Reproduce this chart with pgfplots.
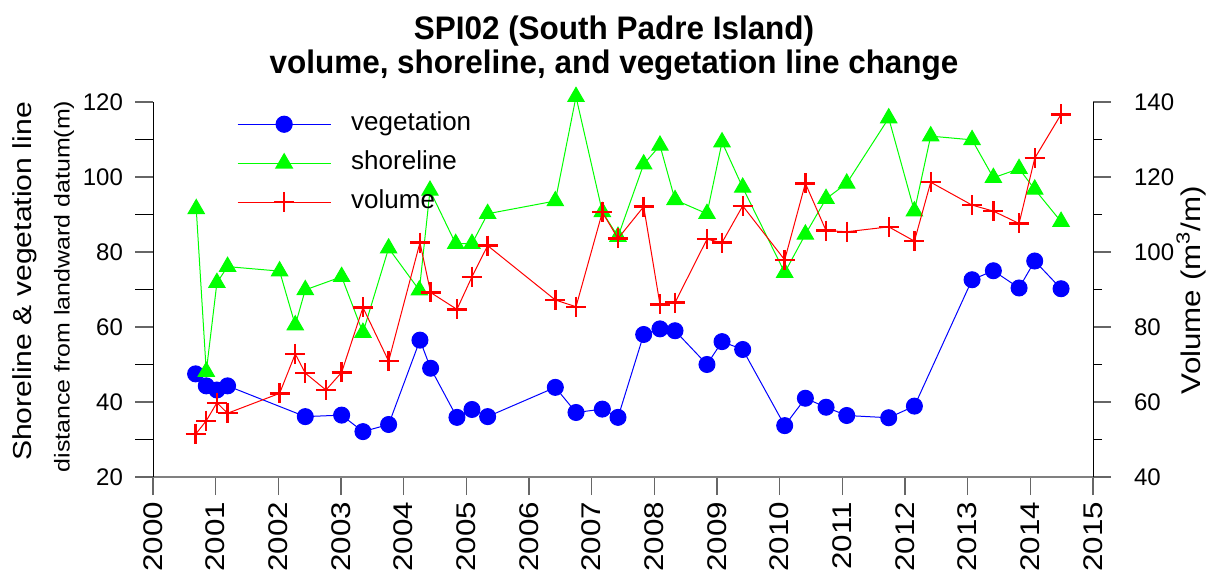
\documentclass[border=0pt]{standalone}
\usepackage{fontspec}
\setmainfont{Liberation Sans}
\newfontfamily\titlefont[FakeStretch=0.965]{Liberation Sans}
\newfontfamily\vfont[FakeStretch=1.16]{Liberation Sans}
\usepackage{pgfplots}
\pgfplotsset{compat=1.18}
\begin{document}
\begin{tikzpicture}
\useasboundingbox (-76.5pt,-49.5pt) rectangle (530pt,238.5pt);
\begin{axis}[
  at={(0pt,0pt)}, anchor=south west,
  scale only axis, width=470pt, height=187.5pt,
  xmin=2000, xmax=2015, ymin=20, ymax=120,
  axis x line=bottom, axis y line=left,
  axis line style={-},
  x axis line style={gray, line width=0.7pt},
  y axis line style={black, line width=0.5pt},
  tick align=outside, major tick length=9pt, minor tick length=9pt,
  major tick style={gray!80!black, line width=0.6pt},
  minor tick style={black, line width=0.5pt},
  xtick={2000,2001,...,2015},
  xticklabels={2000,2001,2002,2003,2004,2005,2006,2007,2008,2009,2010,2011,2012,2013,2014,2015},
  xticklabel style={rotate=90, anchor=east, font=\vfont\fontsize{13.5}{13.5}\selectfont},
  ytick={20,40,...,120}, minor y tick num=1,
  yticklabel style={font=\fontsize{12}{12}\selectfont, xshift=-2.5pt},
  /pgf/number format/assume math mode=true,
  clip=false,
]
\addplot[blue, line width=0.5pt, mark=*, mark size=4pt, mark options={solid, fill=blue, draw=blue}] coordinates {
(2000.68,47.5) (2000.85,44.3) (2001.02,43.2) (2001.19,44.3) (2002.43,36.1) (2003.01,36.5) (2003.35,32.1) (2003.76,34.0) (2004.26,56.5) (2004.43,49.0) (2004.85,35.9) (2005.09,38.0) (2005.34,36.1) (2006.42,43.9) (2006.75,37.2) (2007.17,38.1) (2007.42,35.9) (2007.83,58.0) (2008.09,59.5) (2008.33,59.0) (2008.84,50.0) (2009.08,56.1) (2009.41,54.0) (2010.08,33.7) (2010.41,41.0) (2010.74,38.6) (2011.07,36.4) (2011.74,35.8) (2012.15,38.9) (2013.07,72.6) (2013.41,75.0) (2013.82,70.4) (2014.07,77.6) (2014.49,70.2)
};
\addplot[green, line width=0.5pt, mark=triangle*, mark size=4.7pt, mark options={solid, fill=green, draw=green}] coordinates {
(2000.69,91.5) (2000.85,48.1) (2001.02,71.8) (2001.19,76.1) (2002.02,74.9) (2002.27,60.5) (2002.43,69.9) (2003.01,73.4) (2003.35,58.5) (2003.76,81.0) (2004.25,69.8) (2004.42,96.4) (2004.83,82.2) (2005.09,82.2) (2005.34,90.2) (2006.42,93.6) (2006.75,121.4) (2007.17,90.7) (2007.42,84.1) (2007.83,103.4) (2008.09,108.4) (2008.33,93.9) (2008.84,90.2) (2009.08,109.3) (2009.41,97.2) (2010.08,74.5) (2010.41,84.7) (2010.74,94.2) (2011.07,98.3) (2011.74,115.7) (2012.15,90.9) (2012.41,110.9) (2013.07,109.9) (2013.41,99.8) (2013.82,102.2) (2014.07,96.7) (2014.49,88.1)
};
\end{axis}
\begin{axis}[
  at={(0pt,0pt)}, anchor=south west,
  scale only axis, width=470pt, height=187.5pt,
  xmin=2000, xmax=2015, ymin=40, ymax=140,
  axis x line=none, axis y line=right,
  axis line style={-, black, line width=0.5pt},
  tick align=outside, major tick length=9pt, minor tick length=4.5pt,
  major tick style={gray!80!black, line width=0.6pt},
  minor tick style={black, line width=0.5pt},
  ytick={40,60,...,140}, minor y tick num=1,
  yticklabel style={font=\fontsize{12}{12}\selectfont, xshift=8pt},
  /pgf/number format/assume math mode=true,
  clip=false,
  legend cell align=left,
  legend image code/.code={\draw[mark repeat=2,mark phase=2,line width=0.6pt,#1] plot coordinates {(0pt,0pt) (23.25pt,0pt) (46.5pt,0pt)};},
  legend style={draw=none, fill=none, inner sep=0pt, outer sep=0pt,
    at={(0.0894,0.974)}, anchor=north west, row sep=7pt,
    nodes={inner sep=0pt, text height=9.5pt, text depth=3pt, font=\fontsize{13}{13}\selectfont},
    /tikz/every odd column/.append style={column sep=10pt}},
]
\addlegendimage{blue, mark=*, mark size=4pt, mark options={solid, fill=blue, draw=blue}}
\addlegendentry{vegetation}
\addlegendimage{green, mark=triangle*, mark size=4.7pt, mark options={solid, fill=green, draw=green}}
\addlegendentry{shoreline}
\addplot[red, line width=0.5pt, mark=+, mark size=5pt, mark options={solid, line width=1.2pt}] coordinates {
(2000.68,51.4) (2000.85,55.0) (2001.02,59.8) (2001.19,57.0) (2002.02,62.3) (2002.27,72.8) (2002.43,67.7) (2002.76,63.2) (2003.01,67.9) (2003.35,85.2) (2003.76,70.9) (2004.26,102.5) (2004.43,89.2) (2004.85,84.7) (2005.09,93.4) (2005.34,101.7) (2006.42,87.2) (2006.75,85.4) (2007.17,110.6) (2007.42,103.6) (2007.83,112.1) (2008.09,86.0) (2008.33,86.5) (2008.84,103.4) (2009.08,102.5) (2009.41,112.3) (2010.08,97.9) (2010.41,118.3) (2010.74,105.7) (2011.07,105.4) (2011.74,106.7) (2012.15,102.9) (2012.41,118.6) (2013.07,112.5) (2013.41,110.9) (2013.82,107.6) (2014.07,125.0) (2014.49,136.7)
};
\addlegendentry{volume}
\end{axis}
\node[rotate=90, font=\vfont\fontsize{13}{13}\selectfont] at (-64pt,97.75pt) {Shoreline \& vegetation line};
\node[rotate=90, font=\vfont\fontsize{10.75}{11}\selectfont] at (-44.5pt,95.25pt) {distance from landward datum(m)};
\node[rotate=90, font=\vfont\fontsize{13.5}{14}\selectfont] at (519pt,93.5pt) {Volume (m\textsuperscript{3}/m)};
\node[anchor=base, font=\titlefont\bfseries\fontsize{16.3}{16.3}\selectfont] at (230.5pt,218.5pt) {SPI02 (South Padre Island)};
\node[anchor=base, font=\titlefont\bfseries\fontsize{16.3}{16.3}\selectfont] at (230.5pt,201.5pt) {volume, shoreline, and vegetation line change};
\end{tikzpicture}
\end{document}
